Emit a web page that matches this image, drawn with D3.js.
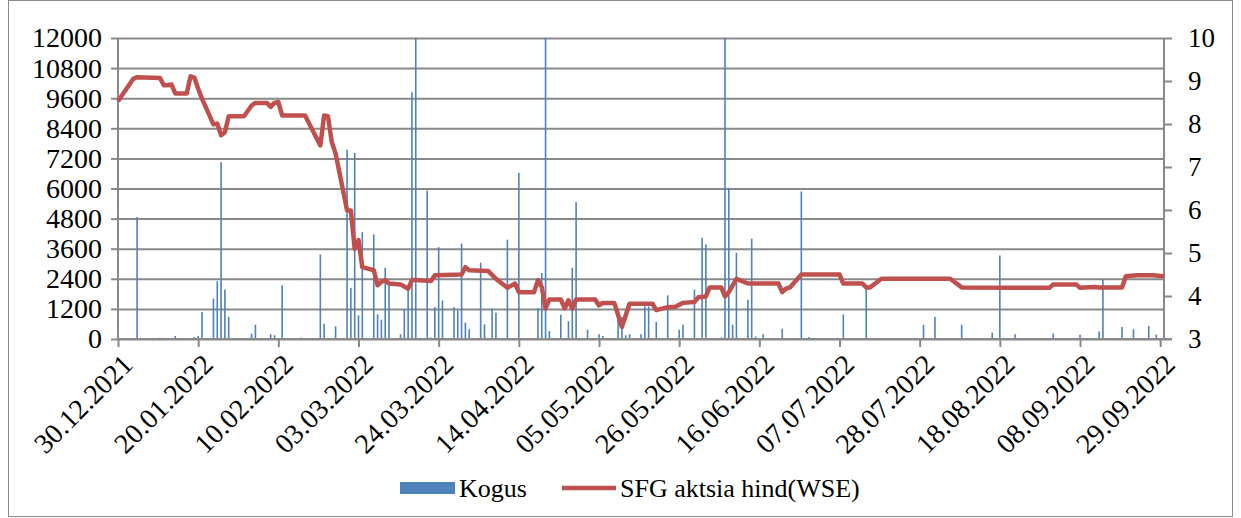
<!DOCTYPE html>
<html lang="et">
<head>
<meta charset="UTF-8">
<title>Kogus ja SFG aktsia hind</title>
<style>
  body { margin: 0; background: #fff; }
  svg text { font-family: "Liberation Serif", "Times New Roman", serif; fill: #000; }
</style>
</head>
<body>
<script src="https://cdn.jsdelivr.net/npm/d3@7/dist/d3.min.js"></script>
<script>
// Kogus (traded volume), one bar per day
const volDates = ["04.01.2022","10.01.2022","14.01.2022","19.01.2022","20.01.2022","21.01.2022","24.01.2022","25.01.2022","26.01.2022","27.01.2022","28.01.2022",
  "03.02.2022","04.02.2022","08.02.2022","09.02.2022","11.02.2022","16.02.2022","21.02.2022","22.02.2022","25.02.2022","28.02.2022",
  "01.03.2022","02.03.2022","03.03.2022","04.03.2022","07.03.2022","08.03.2022","09.03.2022","10.03.2022","11.03.2022","14.03.2022","15.03.2022","16.03.2022","17.03.2022","18.03.2022",
  "21.03.2022","22.03.2022","23.03.2022","24.03.2022","25.03.2022","28.03.2022","29.03.2022","30.03.2022","31.03.2022",
  "01.04.2022","04.04.2022","05.04.2022","07.04.2022","08.04.2022","11.04.2022","12.04.2022","14.04.2022","19.04.2022","20.04.2022","21.04.2022","22.04.2022","25.04.2022","27.04.2022","28.04.2022","29.04.2022",
  "02.05.2022","05.05.2022","06.05.2022","10.05.2022","11.05.2022","12.05.2022","13.05.2022","16.05.2022","17.05.2022","18.05.2022","20.05.2022","23.05.2022","26.05.2022","27.05.2022","30.05.2022","31.05.2022",
  "01.06.2022","02.06.2022","06.06.2022","07.06.2022","08.06.2022","09.06.2022","10.06.2022","13.06.2022","14.06.2022","15.06.2022","17.06.2022","22.06.2022","27.06.2022","29.06.2022",
  "08.07.2022","14.07.2022","18.07.2022","29.07.2022","01.08.2022","08.08.2022","11.08.2022","16.08.2022","18.08.2022","22.08.2022",
  "01.09.2022","08.09.2022","13.09.2022","14.09.2022","19.09.2022","22.09.2022","26.09.2022","28.09.2022"];
const volValues = [4860,50,120,80,120,1075,1610,2310,7050,1970,880,
  215,570,190,150,2140,60,3370,610,505,7550,
  2040,7420,940,4260,4170,980,770,2840,2140,190,1180,1940,9830,12000,
  5920,60,1270,3660,1540,1270,1140,3800,650,
  390,3040,585,1210,1050,3960,40,6620,1230,2630,12000,320,970,705,2840,5455,
  370,190,120,1230,880,150,190,190,1300,1300,680,1740,370,570,1970,40,
  4040,3770,60,12000,6030,570,3440,1570,4000,100,190,410,5880,80,
  980,2050,40,570,880,570,40,255,3330,190,
  215,175,300,2370,480,390,520,175];

// SFG aktsia hind (WSE)
const priceDates = ["30.12.2021","03.01.2022","04.01.2022","10.01.2022","11.01.2022","12.01.2022","13.01.2022","14.01.2022","17.01.2022","18.01.2022","19.01.2022","20.01.2022","21.01.2022",
  "24.01.2022","25.01.2022","26.01.2022","27.01.2022","28.01.2022","01.02.2022","03.02.2022","04.02.2022","07.02.2022","08.02.2022","09.02.2022","10.02.2022","11.02.2022","17.02.2022",
  "21.02.2022","22.02.2022","23.02.2022","24.02.2022","25.02.2022","28.02.2022","01.03.2022","02.03.2022","03.03.2022","04.03.2022","07.03.2022","08.03.2022","09.03.2022","10.03.2022","11.03.2022",
  "14.03.2022","15.03.2022","16.03.2022","17.03.2022","18.03.2022","22.03.2022","23.03.2022","30.03.2022","31.03.2022","01.04.2022","06.04.2022","08.04.2022","11.04.2022","13.04.2022","14.04.2022",
  "18.04.2022","19.04.2022","20.04.2022","21.04.2022","22.04.2022","25.04.2022","26.04.2022","27.04.2022","28.04.2022","29.04.2022","04.05.2022","05.05.2022","06.05.2022","09.05.2022","11.05.2022",
  "13.05.2022","19.05.2022","20.05.2022","23.05.2022","25.05.2022","27.05.2022","30.05.2022","31.05.2022","02.06.2022","03.06.2022","06.06.2022","07.06.2022","08.06.2022","10.06.2022","13.06.2022",
  "21.06.2022","22.06.2022","23.06.2022","24.06.2022","27.06.2022","07.07.2022","08.07.2022","13.07.2022","14.07.2022","15.07.2022","18.07.2022","05.08.2022","08.08.2022","31.08.2022",
  "01.09.2022","07.09.2022","08.09.2022","12.09.2022","13.09.2022","19.09.2022","20.09.2022","23.09.2022","27.09.2022","30.09.2022"];
const priceValues = [8.53,9.05,9.09,9.07,8.90,8.90,8.92,8.71,8.71,9.11,9.08,8.82,8.59,
  7.99,8.01,7.74,7.81,8.18,8.18,8.43,8.49,8.49,8.40,8.49,8.51,8.20,8.20,
  7.50,8.20,8.18,7.58,7.31,5.99,5.99,5.10,5.30,4.67,4.60,4.25,4.33,4.37,4.29,
  4.27,4.22,4.17,4.37,4.37,4.35,4.48,4.50,4.67,4.60,4.58,4.40,4.19,4.29,4.09,
  4.09,4.37,4.21,3.71,3.92,3.92,3.71,3.90,3.71,3.92,3.92,3.78,3.84,3.84,3.28,
  3.82,3.82,3.67,3.74,3.75,3.84,3.86,3.97,3.99,4.20,4.20,3.99,4.09,4.40,4.29,
  4.29,4.09,4.17,4.20,4.50,4.50,4.29,4.29,4.20,4.20,4.40,4.40,4.20,4.19,
  4.27,4.27,4.19,4.21,4.20,4.20,4.46,4.48,4.48,4.46];

const xTickLabels = ["30.12.2021","20.01.2022","10.02.2022","03.03.2022","24.03.2022","14.04.2022","05.05.2022",
  "26.05.2022","16.06.2022","07.07.2022","28.07.2022","18.08.2022","08.09.2022","29.09.2022"];
const leftTicks = [0,1200,2400,3600,4800,6000,7200,8400,9600,10800,12000];
const rightTicks = [3,4,5,6,7,8,9,10];

const W = 1241, H = 518;
const plotL = 118, plotR = 1164, plotT = 38, plotB = 339;
const axisColor = "#898989";
const parse = d3.timeParse("%d.%m.%Y");

const svg = d3.select("body").append("svg")
    .attr("width", W)
    .attr("height", H);

// outer chart border
svg.append("rect")
    .attr("x", 8.5).attr("y", 0.5)
    .attr("width", 1224).attr("height", 516)
    .attr("fill", "none").attr("stroke", "#8c8c8c").attr("stroke-width", 1);

const x = d3.scaleTime()
    .domain([parse("30.12.2021"), parse("30.09.2022")])
    .range([plotL, plotR]);
const yL = d3.scaleLinear().domain([0, 12000]).range([plotB, plotT]).clamp(true);
const yR = d3.scaleLinear().domain([3, 10]).range([plotB, plotT]);

// gridlines
svg.append("g")
    .attr("transform", `translate(${plotL},0)`)
    .call(d3.axisLeft(yL).tickValues(leftTicks).tickSize(-(plotR - plotL)).tickFormat(""))
    .call(g => g.select(".domain").remove())
    .call(g => g.selectAll("line").attr("stroke", axisColor).attr("stroke-width", 2));

// volume bars
const vol = volDates.map((d, i) => ({ date: parse(d), v: volValues[i] }));
svg.append("g").selectAll("rect")
    .data(vol)
    .enter()
    .append("rect")
    .attr("x", d => x(d.date) - 0.8)
    .attr("width", 1.6)
    .attr("y", d => yL(d.v))
    .attr("height", d => plotB - yL(d.v))
    .attr("fill", "#4f81bd");

// axes
const axL = svg.append("g")
    .attr("transform", `translate(${plotL},0)`)
    .call(d3.axisLeft(yL).tickValues(leftTicks).tickSize(7).tickPadding(9).tickFormat(d3.format("d")));
const axR = svg.append("g")
    .attr("transform", `translate(${plotR},0)`)
    .call(d3.axisRight(yR).tickValues(rightTicks).tickSize(8).tickPadding(16).tickFormat(d3.format("d")));
const xTicks = xTickLabels.map(parse);
const axX = svg.append("g")
    .attr("transform", `translate(0,${plotB})`)
    .call(d3.axisBottom(x).tickValues(xTicks).tickSize(8).tickFormat((d, i) => xTickLabels[i]));
axX.selectAll("text")
    .attr("text-anchor", "end")
    .attr("y", 0)
    .attr("dy", 0)
    .attr("transform", "translate(16,27) rotate(-45)");

axL.selectAll("text").style("font-size", "28px");
axR.selectAll("text").style("font-size", "27px");
axX.selectAll("text").style("font-size", "28px");
[axL, axR, axX].forEach(a => {
    a.select(".domain").attr("stroke", axisColor).attr("stroke-width", 2);
    a.selectAll(".tick line").attr("stroke", axisColor).attr("stroke-width", 2);
    a.selectAll("text").style("font-family", '"Liberation Serif", serif');
});
axL.select(".domain").attr("d", `M0,${plotT}V${plotB}`);
axR.select(".domain").attr("d", `M0,${plotT}V${plotB}`);
axX.select(".domain").attr("d", `M${plotL},0H${plotR + 8}`);

// price line
const price = priceDates.map((d, i) => ({ date: parse(d), p: priceValues[i] }));
svg.append("path")
    .datum(price)
    .attr("fill", "none")
    .attr("stroke", "#c0504d")
    .attr("stroke-width", 4.5)
    .attr("stroke-linejoin", "round")
    .attr("d", d3.line().x(d => x(d.date)).y(d => yR(d.p)));

// legend
const lg = svg.append("g");
lg.append("rect").attr("x", 400).attr("y", 482).attr("width", 55).attr("height", 12).attr("fill", "#4f81bd");
lg.append("text").attr("x", 459).attr("y", 497).style("font-size", "26px").text("Kogus");
lg.append("line").attr("x1", 562).attr("x2", 616).attr("y1", 488).attr("y2", 488)
    .attr("stroke", "#c0504d").attr("stroke-width", 4.5);
lg.append("text").attr("x", 620).attr("y", 497).style("font-size", "26px").text("SFG aktsia hind(WSE)");
</script>
</body>
</html>
